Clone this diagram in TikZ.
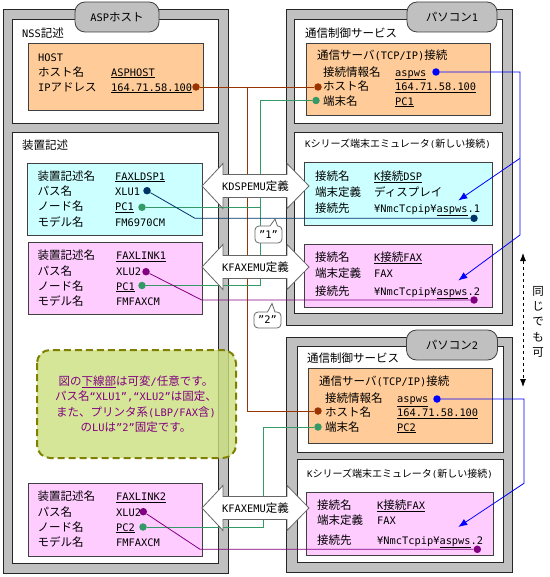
\documentclass[tikz,border=0pt]{standalone}
\usepackage{fontspec}
\setmainfont{Noto Sans CJK JP}
\newfontfamily\jpfont{Noto Sans CJK JP}
\newfontfamily\ltfont{DejaVu Sans Mono}[Scale=0.9]
\usepackage{tikz}
\usetikzlibrary{arrows.meta,calc,positioning}

% kana/kanji in Noto, latin letters half width
\newXeTeXintercharclass\jpclass
\makeatletter
\def\setjpclass#1#2{\count@=#1\relax
  \loop\XeTeXcharclass\count@=\jpclass\advance\count@\@ne\ifnum\count@<#2\repeat}
\setjpclass{"3000}{"3100}
\setjpclass{"4E00}{"A000}
\setjpclass{"FF00}{"FF60}
\makeatother
\XeTeXinterchartokenstate=1
\XeTeXinterchartoks 0 \jpclass={\jpfont}
\XeTeXinterchartoks \jpclass 0={\ltfont}
\XeTeXinterchartoks 4095 0={\ltfont}
\XeTeXinterchartoks 4095 \jpclass={\jpfont}

% underline for the changeable parts
\newcommand{\undl}[1]{\setbox0\hbox{#1}\rlap{\rule[-\dimexpr\dp0+1.6pt\relax]{\wd0}{0.8pt}}\box0}

\definecolor{boxgray}{HTML}{C0C0C0}
\definecolor{hostorange}{HTML}{FFCC99}
\definecolor{dspcyan}{HTML}{CCFFFF}
\definecolor{faxpink}{HTML}{FFCCFF}
\definecolor{ipbrown}{HTML}{993300}
\definecolor{termgreen}{HTML}{339966}
\definecolor{dspnavy}{HTML}{003366}
\definecolor{faxpurple}{HTML}{800080}
\definecolor{infoblue}{HTML}{0000FF}
\definecolor{notefill}{HTML}{CCE080}
\definecolor{noteline}{HTML}{808000}

\tikzset{
  outerbox/.style={draw=black!85, fill=boxgray, line width=0.8pt},
  innerbox/.style={draw=black!85, fill=white, line width=0.8pt},
  tabbox/.style={draw=black!75, fill=boxgray, line width=0.8pt, rounded corners=10pt, minimum height=30pt},
  databox/.style={draw=black!75, fill=#1, line width=0.8pt},
  txt/.style={anchor=base west, inner sep=0pt, yshift=-4.4pt},
  dot/.style={circle, fill=#1, inner sep=0pt, minimum size=7.5pt},
  wire/.style={draw=#1, line width=0.8pt},
  emuarrow/.style={draw=black!60, fill=white, line width=0.8pt},
  callout/.style={draw=black!60, fill=white, line width=0.8pt},
}

\begin{document}
\begin{tikzpicture}[x=1pt,y=-1pt,font=\fontsize{11.5}{14}\selectfont]
\useasboundingbox (0,0) rectangle (549,577);

% frames
\draw[outerbox] (3,9) rectangle (228,573);
\draw[outerbox] (286,9) rectangle (512,325);
\draw[outerbox] (286,337) rectangle (512,572);
\draw[innerbox] (12,19) rectangle (218,123);
\draw[innerbox] (12,132) rectangle (218,563);
\draw[innerbox] (294,19) rectangle (502,123);
\draw[innerbox] (294,132) rectangle (502,313);
\draw[innerbox] (297,346) rectangle (503,452);
\draw[innerbox] (297,459) rectangle (503,562);
\node[tabbox, minimum width=84pt] (asptab) at (117,17) {ASPホスト};
\node[tabbox, minimum width=90pt] (pc1tab) at (452,17) {パソコン1};
\node[tabbox, minimum width=91pt] (pc2tab) at (452,345) {パソコン2};

\node[txt] (nss) at (22,33) {NSS記述};
\node[txt] (dev) at (22,145) {装置記述};
\node[txt] (svc1) at (305,33) {通信制御サービス};
\node[txt, font=\fontsize{10}{12}\selectfont] (emu1) at (305,143) {Kシリーズ端末エミュレータ(新しい接続)};
\node[txt] (svc2) at (307,358) {通信制御サービス};
\node[txt, font=\fontsize{10}{12}\selectfont] (emu2) at (307,473) {Kシリーズ端末エミュレータ(新しい接続)};

% ASP host
\draw[databox=hostorange] (28,43) rectangle (203,110);
\node[txt] (hosthdr) at (38,57) {HOST};
\node[txt] (hostnm) at (38,72) {ホスト名};
\node[txt] (hostnmv) at (111,72) {\undl{ASPHOST}};
\node[txt] (hostip) at (38,87) {IPアドレス};
\node[txt] (hostipv) at (111,87) {\undl{164.71.58.100}};

\draw[databox=dspcyan] (27,163) rectangle (202,235);
\draw[databox=faxpink] (28,242) rectangle (202,314);
\draw[databox=faxpink] (28,483) rectangle (202,556);
\foreach \y [count=\k] in {176,255.5,496.5} {
  \node[txt] (dname\k) at (37.5,\y) {装置記述名};
  \node[txt] (dpath\k) at (37.5,\y+15.3) {パス名};
  \node[txt] (dnode\k) at (37.5,\y+30.6) {ノード名};
  \node[txt] (dmodel\k) at (37.5,\y+45.9) {モデル名};
}
\node[txt] (dname1v) at (115,176) {\undl{FAXLDSP1}};
\node[txt] (dpath1v) at (115,191.3) {XLU1};
\node[txt] (dnode1v) at (115,206.6) {\undl{PC1}};
\node[txt] (dmodel1v) at (115,221.9) {FM6970CM};
\node[txt] (dname2v) at (116,255.5) {\undl{FAXLINK1}};
\node[txt] (dpath2v) at (116,270.8) {XLU2};
\node[txt] (dnode2v) at (116,286.1) {\undl{PC1}};
\node[txt] (dmodel2v) at (116,301.4) {FMFAXCM};
\node[txt] (dname3v) at (116,496.5) {\undl{FAXLINK2}};
\node[txt] (dpath3v) at (116,511.8) {XLU2};
\node[txt] (dnode3v) at (116,527.1) {\undl{PC2}};
\node[txt] (dmodel3v) at (116,542.4) {FMFAXCM};

% PC1
\draw[databox=hostorange] (306,43) rectangle (490,115);
\node[txt] (tcp1) at (317,55) {通信サーバ(TCP/IP)接続};
\node[txt] (info1) at (323,72) {接続情報名};
\node[txt] (info1v) at (395,72) {\undl{aspws}};
\node[txt] (host1) at (323,86.5) {ホスト名};
\node[txt] (host1v) at (395,86.5) {\undl{164.71.58.100}};
\node[txt] (term1) at (323,101) {端末名};
\node[txt] (term1v) at (395,101) {\undl{PC1}};

\draw[databox=dspcyan] (304,162) rectangle (492,225);
\node[txt] (kdsp) at (315,176) {接続名};
\node[txt] (kdspv) at (374,176) {\undl{K接続DSP}};
\node[txt] (kdsptype) at (315,192) {端末定義};
\node[txt] (kdsptypev) at (374,192) {ディスプレイ};
\node[txt] (kdspdest) at (315,208) {接続先};
\node[txt] (kdspdestv) at (374,208) {¥NmcTcpip¥\undl{aspws}.1};

\draw[databox=faxpink] (304,244) rectangle (492,307);
\node[txt] (kfax1) at (315,257) {接続名};
\node[txt] (kfax1v) at (374,257) {\undl{K接続FAX}};
\node[txt] (kfax1type) at (315,273) {端末定義};
\node[txt] (kfax1typev) at (374,273) {FAX};
\node[txt] (kfax1dest) at (315,291) {接続先};
\node[txt] (kfax1destv) at (374,291) {¥NmcTcpip¥\undl{aspws}.2};

% PC2
\draw[databox=hostorange] (308,368) rectangle (492,443);
\node[txt] (tcp2) at (319,381) {通信サーバ(TCP/IP)接続};
\node[txt] (info2) at (325,398.5) {接続情報名};
\node[txt] (info2v) at (397,398.5) {\undl{aspws}};
\node[txt] (host2) at (325,412.5) {ホスト名};
\node[txt] (host2v) at (397,412.5) {\undl{164.71.58.100}};
\node[txt] (term2) at (325,427) {端末名};
\node[txt] (term2v) at (397,427) {\undl{PC2}};

\draw[databox=faxpink] (306,492) rectangle (493,555);
\node[txt] (kfax2) at (317,505) {接続名};
\node[txt] (kfax2v) at (377,505) {\undl{K接続FAX}};
\node[txt] (kfax2type) at (317,520) {端末定義};
\node[txt] (kfax2typev) at (377,520) {FAX};
\node[txt] (kfax2dest) at (317,540) {接続先};
\node[txt] (kfax2destv) at (377,540) {¥NmcTcpip¥\undl{aspws}.2};

% dots
\node[dot=ipbrown] (aspip) at (196,87) {};
\node[dot=ipbrown] (pc1host) at (318,87) {};
\node[dot=ipbrown] (pc2host) at (318,411) {};
\node[dot=termgreen] (pc1term) at (316,100.5) {};
\node[dot=termgreen] (pc2term) at (318,427) {};
\node[dot=termgreen] (ldspnode) at (142,207.3) {};
\node[dot=termgreen] (link1node) at (142,285.5) {};
\node[dot=termgreen] (link2node) at (143,527) {};
\node[dot=dspnavy] (ldspxlu) at (147,190.7) {};
\node[dot=dspnavy] (kdspto) at (474,218.3) {};
\node[dot=faxpurple] (link1xlu) at (146,271.7) {};
\node[dot=faxpurple] (kfax1to) at (474,300) {};
\node[dot=faxpurple] (link2xlu) at (143.3,511.7) {};
\node[dot=faxpurple] (kfax2to) at (477.3,549.3) {};
\node[dot=infoblue] (pc1info) at (436,72) {};
\node[dot=infoblue] (pc2info) at (437,399) {};

\coordinate (hostbus) at (247,87);
\coordinate (pc1bus) at (260.5,285.5);
\coordinate (pc2bus) at (263,527);
\coordinate (navybend) at (195,218.3);
\coordinate (link1bend) at (201.7,300);
\coordinate (link2bend) at (200,549.3);
\coordinate (pc1split) at (520,158.3);
\coordinate (pc1bend) at (520,235);
\coordinate (pc2bend) at (524,483.3);
\coordinate (kdsptip) at (458.3,200.5);
\coordinate (kfax1tip) at (458.3,280.5);
\coordinate (kfax2tip) at (458.3,527);

% wires
\draw[wire=ipbrown] (aspip) -- (pc1host);
\draw[wire=ipbrown] (hostbus) |- (pc2host);
\draw[wire=termgreen] (pc1term) -| (pc1bus) -- (link1node);
\draw[wire=termgreen] (ldspnode) -- (ldspnode -| pc1bus);
\draw[wire=termgreen] (pc2term) -| (pc2bus) -- (link2node);
\draw[wire=dspnavy] (ldspxlu) -- (navybend) -- (kdspto);
\draw[wire=faxpurple] (link1xlu) -- (link1bend) -- (kfax1to);
\draw[wire=faxpurple] (link2xlu) -- (link2bend) -- (kfax2to);
\draw[wire=infoblue, -{Latex[length=9pt,width=7pt]}] (pc1info) -| (pc1bend) -- (kfax1tip);
\draw[wire=infoblue, -{Latex[length=9pt,width=7pt]}] (pc1split) -- (kdsptip);
\draw[wire=infoblue, -{Latex[length=9pt,width=7pt]}] (pc2info) -| (pc2bend) -- (kfax2tip);

% EMU definitions
\foreach \y/\t [count=\k] in {186/KDSPEMU定義, 267/KFAXEMU定義, 508/KFAXEMU定義} {
  \draw[emuarrow] (202,\y) -- (223,\y-22.5) -- (223,\y-11.5) -- (287,\y-11.5) -- (287,\y-22.5)
    -- (309,\y) -- (287,\y+22.5) -- (287,\y+11.5) -- (223,\y+11.5) -- (223,\y+22.5) -- cycle;
  \node (emudef\k) at (255.5,\y) {\t};
}

% LU numbers
\draw[callout] (270,226) -- (275,219) -- (277.5,226) [rounded corners=4pt] -- (282,226) -- (282,243)
  -- (255,243) -- (255,226) [sharp corners] -- cycle;
\node (lu1) at (268.5,234.5) {”1”};
\draw[callout] (267.5,312) -- (272,303.5) -- (275,312) [rounded corners=4pt] -- (281,312) -- (281,328)
  -- (254,328) -- (254,312) [sharp corners] -- cycle;
\node (lu2) at (267.5,320) {”2”};

% note
\draw[draw=noteline, fill=notefill, fill opacity=0.8, line width=2pt, dash pattern=on 7pt off 4pt,
  rounded corners=13pt] (37,350) rectangle (236,458);
\node[text=faxpurple, align=center, font=\fontsize{11.5}{15.4}\selectfont] (note) at (136,404)
  {図の\undl{下線部}は可変/任意です。\\パス名“XLU1”,“XLU2”は固定、\\また、プリンタ系(LBP/FAX含)\\のLUは”2”固定です。};

% same value allowed
\coordinate (sametop) at (523,253);
\coordinate (samebot) at (523,387);
\draw[dashed, line width=0.8pt, {Latex[length=8pt,width=6pt]}-{Latex[length=8pt,width=6pt]}] (sametop) -- (samebot);
\foreach \c [count=\i] in {同,じ,で,も,可} \node (same\i) at (538,276+15.3*\i) {\c};
\end{tikzpicture}
\end{document}
